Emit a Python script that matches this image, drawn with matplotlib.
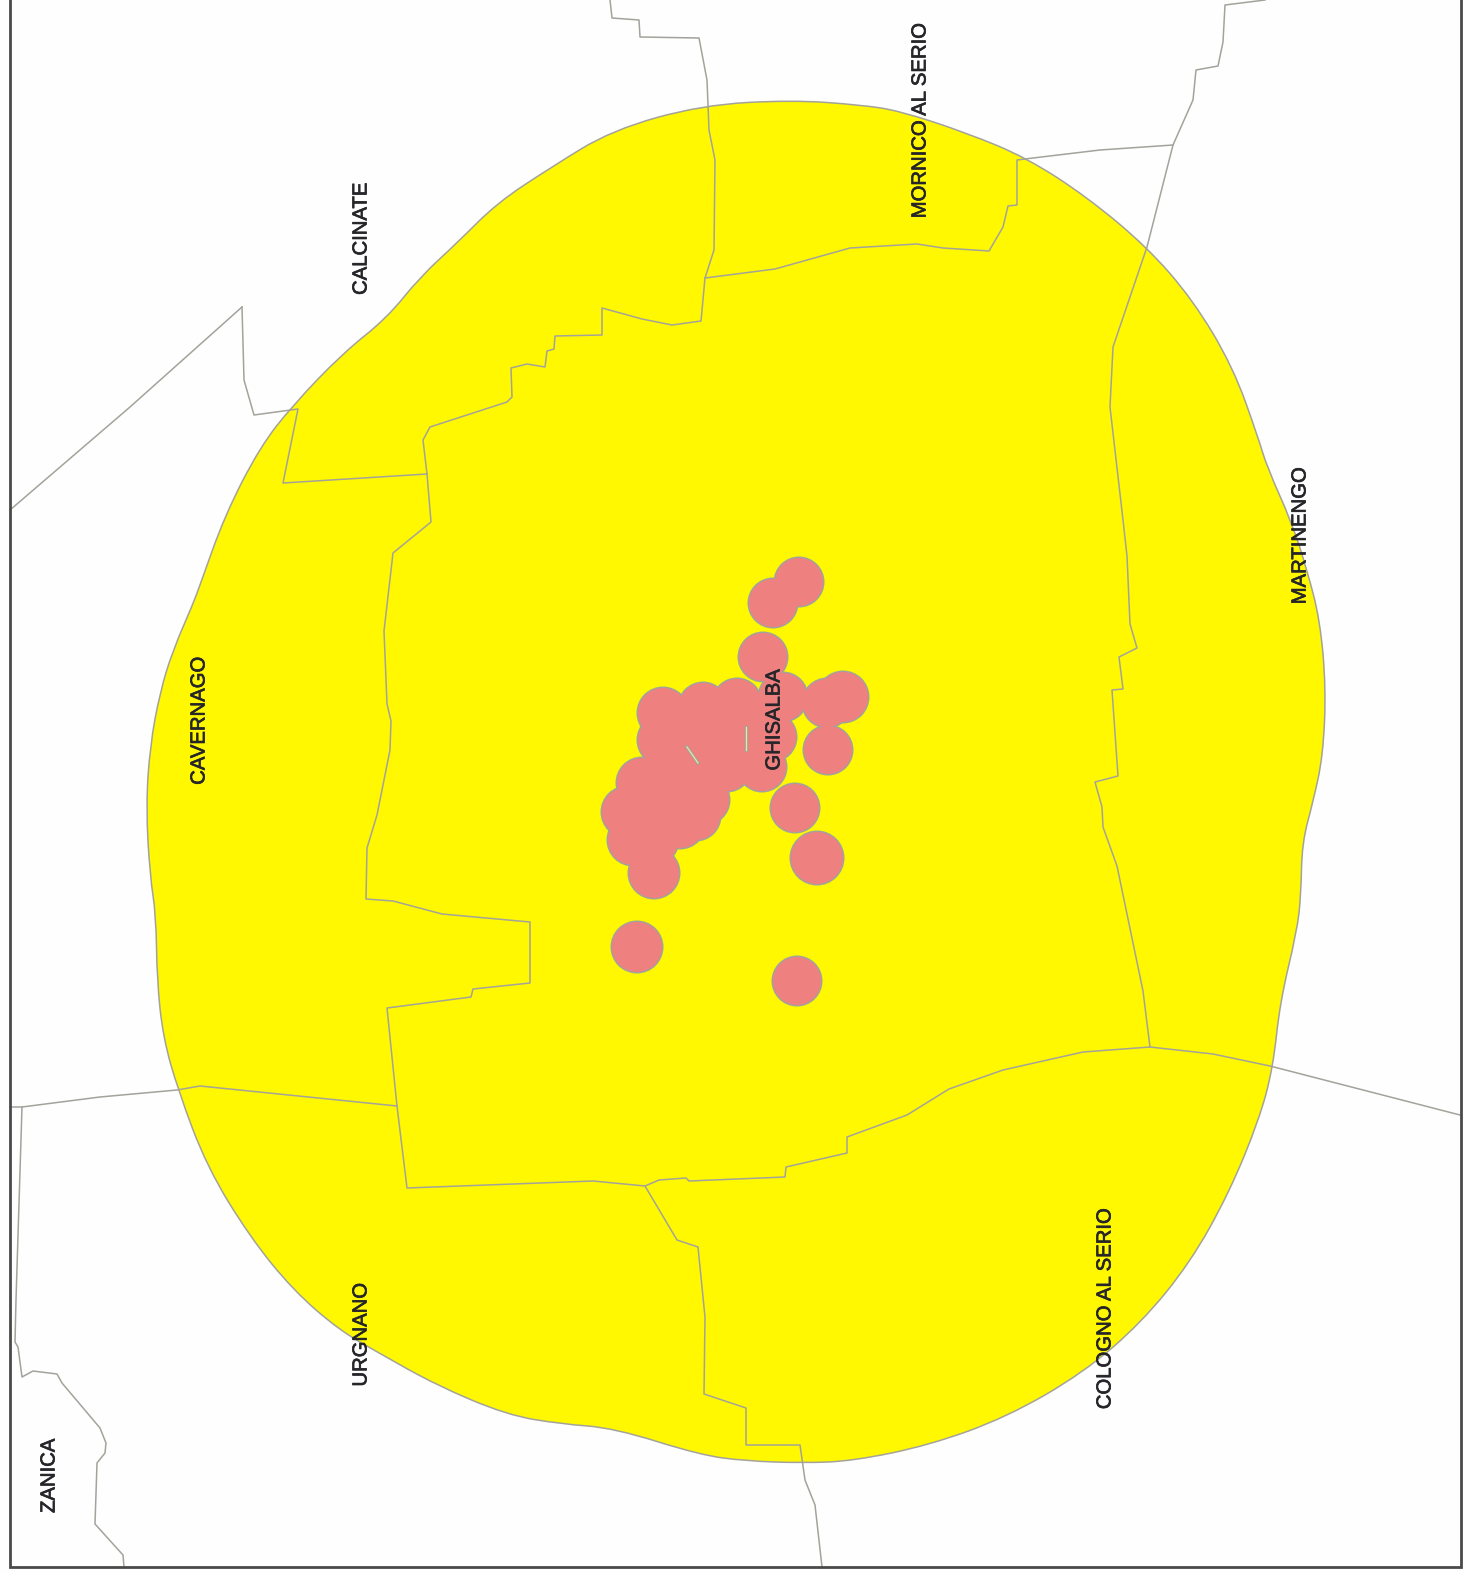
import matplotlib
matplotlib.use("Agg")
import matplotlib.pyplot as plt
import matplotlib.patheffects as pe
from matplotlib.patches import PathPatch, Circle, Rectangle
from matplotlib.path import Path

buffer_outline = [(702,105),(792,100),(862,105),(900,111),(967,133),(1027,158),(1087,197),(1147,247),(1193,300),
    (1233,367),(1258,437),(1267,467),(1292,523),(1307,570),(1320,620),(1326,688),(1323,756),(1313,802),(1302,843),
    (1301,895),(1297,931),(1280,1002),(1273,1068),(1259,1120),(1229,1193),(1190,1263),(1141,1323),(1083,1373),
    (1007,1417),(930,1445),(853,1461),(803,1463),(746,1461),(700,1455),(614,1428),(561,1424),(507,1415),(436,1385),
    (379,1353),(339,1330),(293,1290),(250,1237),(207,1167),(178,1090),(163,1037),(157,980),(156,915),(150,876),
    (146,807),(150,746),(160,692),(173,650),(193,604),(200,585),(225,515),(260,447),(293,405),(343,353),(387,318),
    (420,277),(457,243),(497,203),(550,168),(612,130)]

ghisalba_border = [(610,0),(612,18),(639,20),(640,37),(699,38),(707,80),(709,130),(715,160),(714,250),(705,278),
    (701,321),(672,325),(642,319),(602,308),(602,335),(555,336),(554,349),(547,351),(545,367),(527,364),(511,368),
    (512,397),(507,402),(430,427),(423,440),(427,474),(431,522),(393,553),(384,631),(387,704),(391,721),(390,750),
    (377,815),(367,848),(366,899),(393,901),(442,914),(530,922),(530,983),(473,989),(471,997),(387,1008),(397,1106),
    (407,1188),(593,1181),(645,1186),(659,1180),(686,1178),(689,1181),(785,1177),(786,1167),(847,1153),(847,1137),
    (907,1115),(949,1089),(1003,1070),(1083,1052),(1150,1047),(1213,1054),(1270,1066),(1460,1115)]
martinengo_border = [(1265,0),(1225,5),(1223,42),(1218,66),(1196,70),(1193,100),(1173,145),(1147,247),(1113,347),
    (1110,407),(1123,520),(1127,556),(1130,624),(1137,648),(1119,657),(1123,689),(1112,690),(1118,776),(1095,782),
    (1102,807),(1103,827),(1117,866),(1143,991),(1150,1047)]
mornico_border = [(1173,145),(1100,150),(1033,158),(1017,160),(1017,205),(1008,206),(1003,227),(989,251),(943,248),
    (917,244),(850,248),(775,269),(705,278)]
calcinate_west = [(242,307),(130,407),(10,510)]
calcinate_south = [(242,307),(244,380),(254,415),(298,409),(283,483),(427,474)]
urgnano_north = [(10,1107),(22,1107),(100,1097),(177,1090),(200,1086),(397,1106)]
zanica_border = [(22,1107),(16,1300),(15,1342),(18,1347),(22,1377),(33,1371),(57,1374),(62,1383),(100,1428),(106,1443),
    (105,1453),(97,1463),(95,1524),(123,1555),(124,1567)]
cologno_border = [(645,1186),(677,1240),(698,1247),(705,1317),(704,1394),(746,1408),(746,1445),(800,1445),(805,1480),
    (815,1505),(822,1567)]
borders = [ghisalba_border, martinengo_border, mornico_border, calcinate_west, calcinate_south,
           urgnano_north, zanica_border, cologno_border]

site_x = [799,773,763,783,843,827,828,795,817,654,637,797,772,762,737,703,663,642,627,633,696,705,727,
          663,680,697,730,663,653,680,700,745,720,745]
site_y = [582,603,657,697,697,703,750,808,858,873,947,981,737,767,703,707,713,783,812,840,816,800,767,
          740,773,740,740,807,840,823,770,745,730,720]
site_r = [24,24,24,24,25,24,24,24,26,25,25,24,24,24,24,24,25,25,25,25,24,24,24,
          25,25,25,25,25,25,25,25,24,25,24]

hole_segments = [[(687,747),(698,763)], [(746,727),(746,750)]]

label_text = ["CALCINATE","MORNICO AL SERIO","MARTINENGO","CAVERNAGO","GHISALBA","URGNANO","COLOGNO AL SERIO","ZANICA"]
label_x = [361,920,1300,199,774,361,1105,49]
label_y = [239,121,536,721,720,1335,1309,1476]

W, H = 1463, 1572
plt.rcParams['font.family'] = ['Liberation Sans', 'DejaVu Sans']
fig = plt.figure(figsize=(W/100, H/100), dpi=100, facecolor='#fefefe')
ax = fig.add_axes([0, 0, 1, 1])
ax.set_xlim(0, W); ax.set_ylim(H, 0); ax.axis('off')

YELLOW = '#fff800'; PINK = '#ee8080'; GREY = '#a3a39b'


def rounded_closed_path(pts):
    mid = lambda a, b: ((a[0] + b[0]) / 2, (a[1] + b[1]) / 2)
    verts = [mid(pts[-1], pts[0])]
    codes = [Path.MOVETO]
    for i, p in enumerate(pts):
        verts += [p, mid(p, pts[(i + 1) % len(pts)])]
        codes += [Path.CURVE3, Path.CURVE3]
    return Path(verts, codes)


ax.add_patch(PathPatch(rounded_closed_path(buffer_outline), facecolor=YELLOW, edgecolor=GREY, lw=1.1, zorder=1))
for b in borders:
    ax.plot(*zip(*b), color=GREY, lw=1.1, zorder=2, solid_joinstyle='round')
for x, y, r in zip(site_x, site_y, site_r):
    ax.add_patch(Circle((x, y), r + 1.5, facecolor=GREY, edgecolor='none', zorder=3))
for x, y, r in zip(site_x, site_y, site_r):
    ax.add_patch(Circle((x, y), r, facecolor=PINK, edgecolor='none', zorder=4))
for s in hole_segments:
    ax.plot(*zip(*s), color=GREY, lw=2.4, zorder=5)
    ax.plot(*zip(*s), color='#e8e8a0', lw=0.9, zorder=5)
for t, x, y in zip(label_text, label_x, label_y):
    ax.text(x, y, t, rotation=90, ha='center', va='center', fontsize=14.6, color='#26262a', zorder=6,
            path_effects=[pe.withStroke(linewidth=0.5, foreground='#26262a')])
ax.add_patch(Rectangle((9.5, -3), 1451, 1570, fill=False, edgecolor='#4a4a4a', lw=2.0, zorder=7))
fig.savefig('out.png', dpi=100, facecolor=fig.get_facecolor())
